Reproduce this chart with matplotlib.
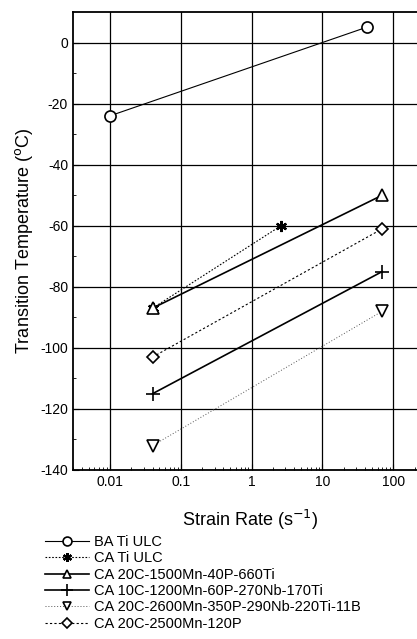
import matplotlib
matplotlib.use("Agg")
import matplotlib.pyplot as plt
from matplotlib.ticker import FixedLocator, NullFormatter, LogLocator

plt.rcParams["font.family"] = ["Liberation Sans", "DejaVu Sans"]
plt.rcParams["axes.unicode_minus"] = False

# data
labels = ["BA Ti ULC", "CA Ti ULC", "CA 20C-1500Mn-40P-660Ti",
          "CA 10C-1200Mn-60P-270Nb-170Ti", "CA 20C-2600Mn-350P-290Nb-220Ti-11B",
          "CA 20C-2500Mn-120P"]
rates = [[0.01, 42], [0.04, 2.6], [0.04, 70], [0.04, 70], [0.04, 70], [0.04, 70]]
temps = [[-24, 5], [-87, -60], [-87, -50], [-115, -75], [-132, -88], [-103, -61]]
x_ticks = [0.01, 0.1, 1, 10, 100]
x_ticklabels = ["0.01", "0.1", "1", "10", "100"]
y_ticks = [0, -20, -40, -60, -80, -100, -120, -140]

markers = ["o", "x", "^", "+", "v", "D"]
styles = [
    dict(ls="-", lw=0.8, color="black"),
    dict(ls=(0, (1.5, 1.5)), lw=0.8, color="black"),
    dict(ls="-", lw=1.2, color="black"),
    dict(ls="-", lw=1.2, color="black"),
    dict(ls=(0, (1, 2)), lw=0.7, color="#555555"),
    dict(ls=(0, (2, 2)), lw=0.8, color="black"),
]
msizes = [8, 8, 8, 10, 8, 6.5]

fig = plt.figure(figsize=(4.17, 6.39), dpi=100)
ax = fig.add_axes([0.175, 0.2645, 0.849, 0.7167])

for i, lab in enumerate(labels):
    st = styles[i]
    mk = markers[i]
    if mk == "x":
        # asterisk-like marker
        ax.plot(rates[i], temps[i], ls=st["ls"], lw=st["lw"], color=st["color"],
                marker=(6, 2, 0), ms=msizes[i], mec="black", mew=1.6, label=lab)
    elif mk == "+":
        ax.plot(rates[i], temps[i], ls=st["ls"], lw=st["lw"], color=st["color"],
                marker="+", ms=msizes[i], mec="black", mew=1.2, label=lab)
    else:
        ax.plot(rates[i], temps[i], ls=st["ls"], lw=st["lw"], color=st["color"],
                marker=mk, ms=msizes[i], mfc="white", mec="black", mew=1.2, label=lab)

ax.set_xscale("log")
ax.set_xlim(0.003, 300)
ax.set_ylim(-140, 10)
ax.xaxis.set_major_locator(FixedLocator(x_ticks))
ax.set_xticklabels(x_ticklabels)
ax.xaxis.set_minor_locator(LogLocator(base=10, subs=range(2, 10)))
ax.xaxis.set_minor_formatter(NullFormatter())
ax.set_yticks(y_ticks)
ax.yaxis.set_minor_locator(FixedLocator(range(-130, 10, 20)))
ax.tick_params(which="both", direction="in", labelsize=10)
ax.tick_params(which="major", length=4)
ax.tick_params(which="minor", length=2.5)
ax.grid(True, which="major", color="black", lw=0.9)
for sp in ax.spines.values():
    sp.set_linewidth(1.3)

ax.set_xlabel("Strain Rate (s$^{-1}$)", fontsize=13, labelpad=14)
ax.set_ylabel("Transition Temperature ($^{\\rm o}$C)", fontsize=13, labelpad=4)

leg = fig.legend(loc="upper left", bbox_to_anchor=(0.09, 0.174), frameon=False,
                 fontsize=10.5, handlelength=3.0, handletextpad=0.4, labelspacing=0.16,
                 borderpad=0, markerscale=0.8)

fig.savefig("out.png", dpi=100)
